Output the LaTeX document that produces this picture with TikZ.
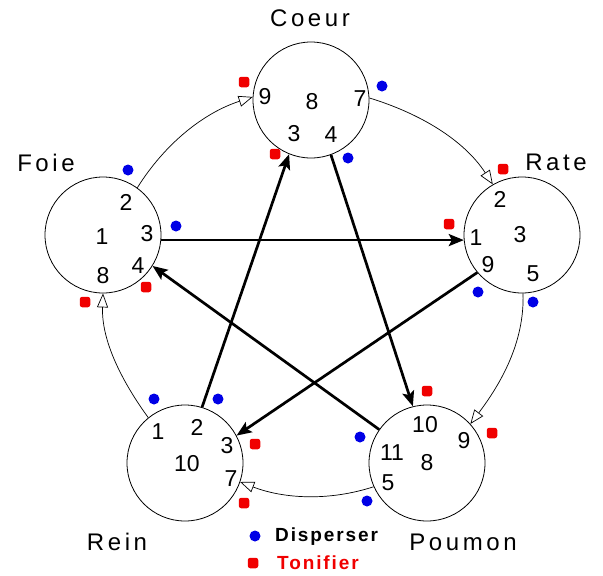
\documentclass[tikz,border=0pt]{standalone}
\usepackage{fontspec}
\setmainfont{Liberation Sans}
\newfontfamily\lblfont[LetterSpace=15]{Liberation Sans}
\newfontfamily\legfont[LetterSpace=10]{Liberation Sans}
\usetikzlibrary{arrows.meta}
\definecolor{dispblue}{RGB}{0,0,230}
\definecolor{tonred}{RGB}{240,0,0}

\begin{document}
\begin{tikzpicture}[
    x=1pt, y=-1pt,
    organ/.style={draw, circle, line width=0.8pt, minimum size=116pt, inner sep=0pt},
    pt/.style={font=\fontsize{23}{23}\selectfont, inner sep=0pt},
    organlbl/.style={font=\lblfont\fontsize{24}{24}\selectfont, inner sep=0pt},
    ring/.style={line width=0.7pt, -{Triangle[open, length=14pt, width=11pt]}},
    flow/.style={line width=2.7pt, -{Stealth[length=15pt, width=12pt, inset=3pt]}},
    disp/.style={circle, fill=dispblue, minimum size=11pt, inner sep=0pt},
    toni/.style={rectangle, rounded corners=2.5pt, fill=tonred, minimum size=10.5pt, inner sep=0pt}
]
\useasboundingbox (0,0) rectangle (603,576);

\node[organ] (coeur) at (311,100) {};
\node[organ] (foie) at (103,235) {};
\node[organ] (rate) at (522,235) {};
\node[organ] (rein) at (185,463) {};
\node[organ] (poumon) at (427,463) {};

\node[organlbl] (lcoeur) at (310,18) {Coeur};
\node[organlbl] (lfoie) at (46,163) {Foie};
\node[organlbl] (lrate) at (556,162) {Rate};
\node[organlbl] (lrein) at (117,542) {Rein};
\node[organlbl] (lpoumon) at (463,542) {Poumon};

\node[pt] (c9) at (265,97) {9};
\node[pt] (c8) at (312,102) {8};
\node[pt] (c7) at (360,99) {7};
\node[pt] (c3) at (294,134) {3};
\node[pt] (c4) at (331,135) {4};

\node[pt] (f2) at (126,202) {2};
\node[pt] (f1) at (102,237) {1};
\node[pt] (f3) at (147,234) {3};
\node[pt] (f4) at (138,266) {4};
\node[pt] (f8) at (103,276) {8};

\node[pt] (r2) at (500,199) {2};
\node[pt] (r1) at (476,238) {1};
\node[pt] (r3) at (520,235) {3};
\node[pt] (r9) at (488,265) {9};
\node[pt] (r5) at (533,274) {5};

\node[pt] (n1) at (158,432) {1};
\node[pt] (n2) at (197,427) {2};
\node[pt] (n3) at (227,446) {3};
\node[pt] (n10) at (187,464) {10};
\node[pt] (n7) at (231,479) {7};

\node[pt] (p10) at (425,425) {10};
\node[pt] (p9) at (464,441) {9};
\node[pt] (p11) at (392,453) {11};
\node[pt] (p8) at (427,463) {8};
\node[pt] (p5) at (388,483) {5};

\draw[ring] (foie.54) to[out=58, in=198, looseness=0.9] (coeur.177);
\draw[ring] (coeur.2) to[out=-17, in=123, looseness=0.9] (rate.120);
\draw[ring] (rate.-89) to[out=-88, in=53, looseness=0.9] (poumon.42);
\draw[ring] (poumon.204) to[out=198, in=-21, looseness=0.9] (rein.-19);
\draw[ring] (rein.129) to[out=126, in=268, looseness=0.9] (foie.-90);

\draw[flow] (foie.-5) -- (rate.185);
\draw[flow] (coeur.-70) -- (poumon.104);
\draw[flow] (rate.220) -- (rein.28);
\draw[flow] (poumon.145) -- (foie.-32);
\draw[flow] (rein.73) -- (coeur.248);

\foreach \p [count=\i] in {(382,86), (348,158), (128,170), (176,226), (478,292),
    (533,302), (154,399), (218,399), (360,437), (367,501)}
  \node[disp] (d\i) at \p {};
\foreach \p [count=\i] in {(244,82), (275,154), (146,287), (85,302), (503,169),
    (449,224), (255,444), (244,503), (427,391), (492,433)}
  \node[toni] (t\i) at \p {};

\node[disp] (kdisp) at (255,536) {};
\node[toni] (ktoni) at (253,563) {};
\node[anchor=west, inner sep=0pt, font=\legfont\bfseries\fontsize{19}{19}\selectfont] (ldisp) at (275,537) {Disperser};
\node[anchor=west, inner sep=0pt, text=tonred, font=\legfont\bfseries\fontsize{19}{19}\selectfont] (ltoni) at (277,563) {Tonifier};
\end{tikzpicture}
\end{document}
